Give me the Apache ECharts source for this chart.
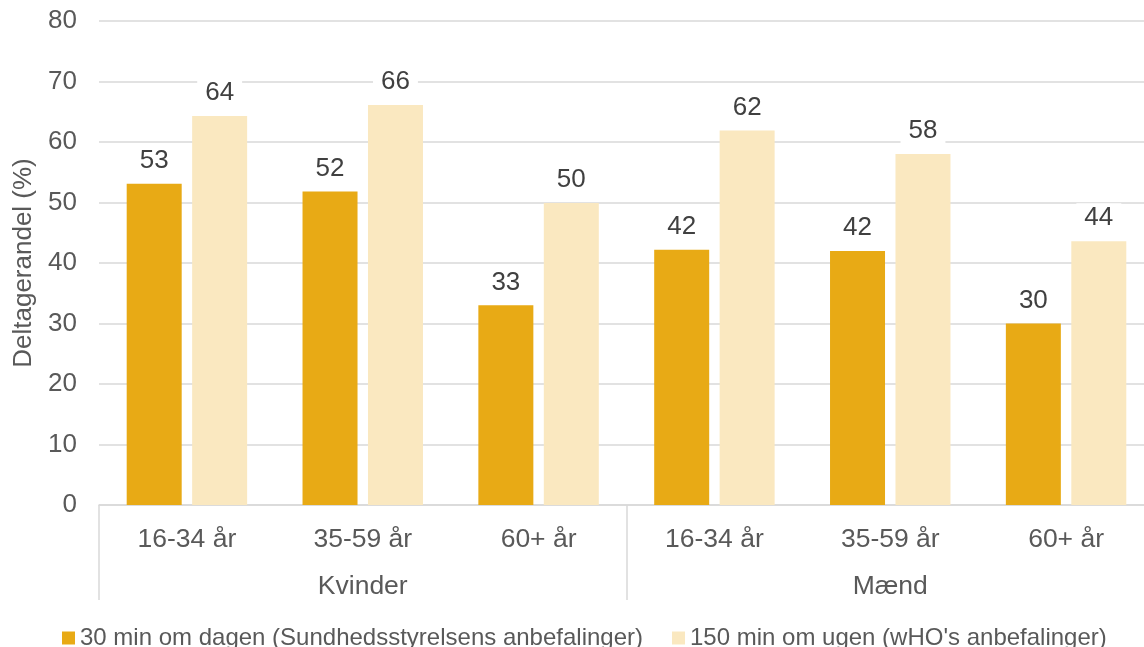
<!DOCTYPE html>
<html>
<head>
<meta charset="utf-8">
<script src="https://cdn.jsdelivr.net/npm/echarts@6/dist/echarts.min.js"></script>
<style>
  html, body { margin: 0; padding: 0; background: #ffffff; overflow: hidden; }
  /* the plot runs slightly past the right edge of the 1144px view */
  #chart { width: 1154px; height: 647px; }
</style>
</head>
<body>
<div id="chart"></div>
<script>
// Andel der opfylder anbefalingerne for fysisk aktivitet, fordelt på køn og alder
const ageGroups = ['16-34 år', '35-59 år', '60+ år', '16-34 år', '35-59 år', '60+ år'];
const genders = ['Kvinder', 'Mænd'];
const seriesNames = [
  '30 min om dagen (Sundhedsstyrelsens anbefalinger)',
  "150 min om ugen (wHO's anbefalinger)"
];
const daily30 = [53.1, 51.8, 33.0, 42.2, 42.0, 30.0];
const weekly150 = [64.3, 66.1, 49.9, 61.9, 58.0, 43.6];
const yTicks = { min: 0, max: 80, step: 10 };

const FONT = '"Liberation Sans", Arial, sans-serif';
const GRID_COLOR = '#d9d9d9';
const AXIS_TEXT = '#595959';
const LABEL_TEXT = '#404040';

const chart = echarts.init(document.getElementById('chart'), null, { renderer: 'canvas' });

const barLabel = {
  show: true,
  position: 'top',
  distance: 8,
  color: LABEL_TEXT,
  fontFamily: FONT,
  fontSize: 26,
  backgroundColor: '#ffffff',
  padding: [2, 8, 2, 8],
  formatter: p => Math.round(p.value).toString()
};

chart.setOption({
  animation: false,
  textStyle: { fontFamily: FONT },
  grid: { left: 99, top: 21, right: 0, bottom: 142, containLabel: false },
  legend: {
    left: 57,
    top: 621,
    itemWidth: 13,
    itemHeight: 13,
    itemGap: 29,
    icon: 'rect',
    textStyle: { color: AXIS_TEXT, fontSize: 24, fontFamily: FONT },
    data: seriesNames
  },
  xAxis: [
    {
      type: 'category',
      data: ageGroups,
      position: 'bottom',
      axisLine: { show: true, lineStyle: { color: GRID_COLOR, width: 1.5 } },
      axisTick: { show: false },
      axisLabel: { color: AXIS_TEXT, fontSize: 26.5, fontFamily: FONT, margin: 21, interval: 0 }
    },
    {
      type: 'category',
      data: genders,
      position: 'bottom',
      axisLine: { show: false },
      axisTick: { show: true, length: 95, lineStyle: { color: GRID_COLOR, width: 1.5 } },
      axisLabel: { color: AXIS_TEXT, fontSize: 26.5, fontFamily: FONT, margin: 68, interval: 0 }
    }
  ],
  yAxis: {
    type: 'value',
    min: yTicks.min,
    max: yTicks.max,
    interval: yTicks.step,
    name: 'Deltagerandel (%)',
    nameLocation: 'middle',
    nameGap: 62,
    nameTextStyle: { color: AXIS_TEXT, fontSize: 26, fontFamily: FONT },
    axisLine: { show: false },
    axisTick: { show: false },
    axisLabel: { color: AXIS_TEXT, fontSize: 26, fontFamily: FONT, margin: 22 },
    splitLine: { lineStyle: { color: GRID_COLOR, width: 1.5 } }
  },
  series: [
    {
      name: seriesNames[0],
      type: 'bar',
      xAxisIndex: 0,
      data: daily30,
      barWidth: 55,
      barGap: '19%',
      itemStyle: { color: '#E8AA15' },
      label: barLabel
    },
    {
      name: seriesNames[1],
      type: 'bar',
      xAxisIndex: 0,
      data: weekly150,
      barWidth: 55,
      barGap: '19%',
      itemStyle: { color: '#FAE8C0' },
      label: barLabel
    }
  ]
});
</script>
</body>
</html>
